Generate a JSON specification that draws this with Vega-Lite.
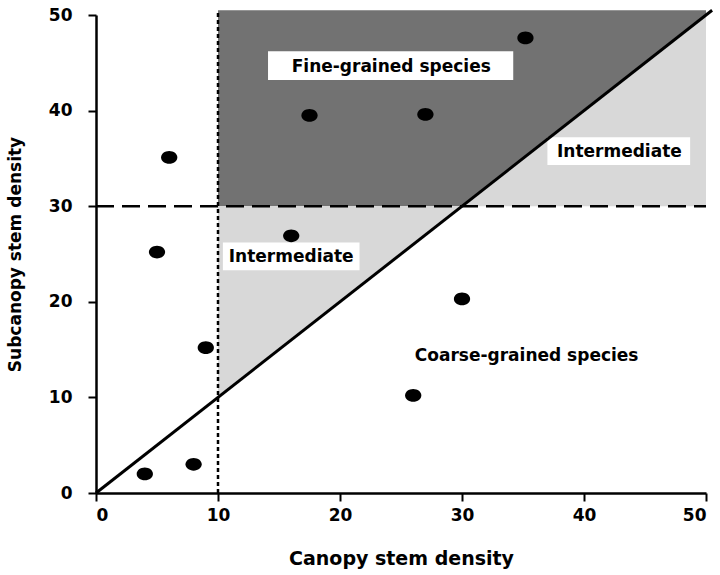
{
  "$schema": "https://vega.github.io/schema/vega-lite/v6.json",
  "width": 610,
  "height": 478,
  "autosize": "none",
  "padding": {"left": 96, "top": 15, "right": 14, "bottom": 82},
  "background": "white",
  "config": {
    "view": {"stroke": null},
    "font": "DejaVu Sans",
    "axis": {
      "grid": false,
      "domainColor": "black",
      "domainWidth": 2.5,
      "tickColor": "black",
      "tickWidth": 2,
      "tickSize": 8,
      "labelFont": "DejaVu Sans",
      "labelFontWeight": "bold",
      "labelFontSize": 17,
      "labelColor": "black",
      "titleFont": "DejaVu Sans",
      "titleFontWeight": "bold",
      "titleColor": "black"
    }
  },
  "datasets": {
    "points": [
      {"canopy": 4, "subcanopy": 2},
      {"canopy": 8, "subcanopy": 3},
      {"canopy": 9, "subcanopy": 15.2},
      {"canopy": 5, "subcanopy": 25.2},
      {"canopy": 6, "subcanopy": 35.1},
      {"canopy": 16, "subcanopy": 26.9},
      {"canopy": 17.5, "subcanopy": 39.5},
      {"canopy": 27, "subcanopy": 39.6},
      {"canopy": 35.2, "subcanopy": 47.6},
      {"canopy": 30, "subcanopy": 20.3},
      {"canopy": 26, "subcanopy": 10.2}
    ],
    "regions": [
      {"zone": "fine", "x": 10, "top": 50.5, "bottom": 30},
      {"zone": "fine", "x": 30, "top": 50.5, "bottom": 30},
      {"zone": "fine", "x": 50, "top": 50.5, "bottom": 50},
      {"zone": "inter_up", "x": 30, "top": 30, "bottom": 30},
      {"zone": "inter_up", "x": 50, "top": 50, "bottom": 30},
      {"zone": "inter_low", "x": 10, "top": 30, "bottom": 10},
      {"zone": "inter_low", "x": 30, "top": 30, "bottom": 30}
    ],
    "boxes": [
      {"x1": 14.1, "x2": 34.2, "y1": 43.2, "y2": 46.2},
      {"x1": 37.0, "x2": 48.7, "y1": 34.3, "y2": 37.2},
      {"x1": 10.4, "x2": 21.6, "y1": 23.3, "y2": 26.2}
    ],
    "labels": [
      {"text": "Fine-grained species", "x": 24.2, "y": 44.6},
      {"text": "Intermediate", "x": 42.9, "y": 35.7},
      {"text": "Intermediate", "x": 16.0, "y": 24.7},
      {"text": "Coarse-grained species", "x": 35.3, "y": 14.3}
    ],
    "diag": [{"x": 0, "y": 0}, {"x": 50.5, "y": 50.5}]
  },
  "layer": [
    {
      "data": {"name": "regions"},
      "transform": [{"filter": "datum.zone === 'fine'"}],
      "mark": {"type": "area", "color": "#727272", "opacity": 1},
      "encoding": {
        "x": {"field": "x", "type": "quantitative", "scale": {"domain": [0, 50], "nice": false}, "axis": {"values": [0, 10, 20, 30, 40, 50], "title": "Canopy stem density", "titleFontSize": 19, "labelPadding": 6, "titlePadding": 26}},
        "y": {"field": "top", "type": "quantitative", "scale": {"domain": [0, 50], "nice": false}, "axis": {"values": [0, 10, 20, 30, 40, 50], "title": "Subcanopy stem density", "titleFontSize": 17, "labelPadding": 16, "titlePadding": 24}},
        "y2": {"field": "bottom"}
      }
    },
    {
      "data": {"name": "regions"},
      "transform": [{"filter": "datum.zone === 'inter_up'"}],
      "mark": {"type": "area", "color": "#d8d8d8", "opacity": 1},
      "encoding": {
        "x": {"field": "x", "type": "quantitative"},
        "y": {"field": "top", "type": "quantitative"},
        "y2": {"field": "bottom"}
      }
    },
    {
      "data": {"name": "regions"},
      "transform": [{"filter": "datum.zone === 'inter_low'"}],
      "mark": {"type": "area", "color": "#d8d8d8", "opacity": 1},
      "encoding": {
        "x": {"field": "x", "type": "quantitative"},
        "y": {"field": "top", "type": "quantitative"},
        "y2": {"field": "bottom"}
      }
    },
    {
      "data": {"name": "boxes"},
      "mark": {"type": "rect", "color": "white"},
      "encoding": {
        "x": {"field": "x1", "type": "quantitative"},
        "x2": {"field": "x2"},
        "y": {"field": "y1", "type": "quantitative"},
        "y2": {"field": "y2"}
      }
    },
    {
      "data": {"values": [{"y": 30, "x1": 0, "x2": 50}]},
      "mark": {"type": "rule", "color": "black", "strokeWidth": 2.5, "strokeDash": [18, 8]},
      "encoding": {
        "y": {"field": "y", "type": "quantitative"},
        "x": {"field": "x1", "type": "quantitative"},
        "x2": {"field": "x2"}
      }
    },
    {
      "data": {"values": [{"x": 10, "y1": 0, "y2": 50.5}]},
      "mark": {"type": "rule", "color": "black", "strokeWidth": 2.5, "strokeDash": [4, 3]},
      "encoding": {
        "x": {"field": "x", "type": "quantitative"},
        "y": {"field": "y1", "type": "quantitative"},
        "y2": {"field": "y2"}
      }
    },
    {
      "data": {"name": "diag"},
      "mark": {"type": "line", "color": "black", "strokeWidth": 3, "clip": false},
      "encoding": {
        "x": {"field": "x", "type": "quantitative"},
        "y": {"field": "y", "type": "quantitative"}
      }
    },
    {
      "data": {"name": "labels"},
      "mark": {"type": "text", "font": "DejaVu Sans", "fontWeight": "bold", "fontSize": 17, "color": "black"},
      "encoding": {
        "x": {"field": "x", "type": "quantitative"},
        "y": {"field": "y", "type": "quantitative"},
        "text": {"field": "text"}
      }
    },
    {
      "data": {"name": "points"},
      "mark": {"type": "point", "shape": "M-1.15,0A1.15,0.9 0 1,1 1.15,0A1.15,0.9 0 1,1 -1.15,0Z", "filled": true, "color": "black", "opacity": 1, "size": 200},
      "encoding": {
        "x": {"field": "canopy", "type": "quantitative"},
        "y": {"field": "subcanopy", "type": "quantitative"}
      }
    }
  ]
}
